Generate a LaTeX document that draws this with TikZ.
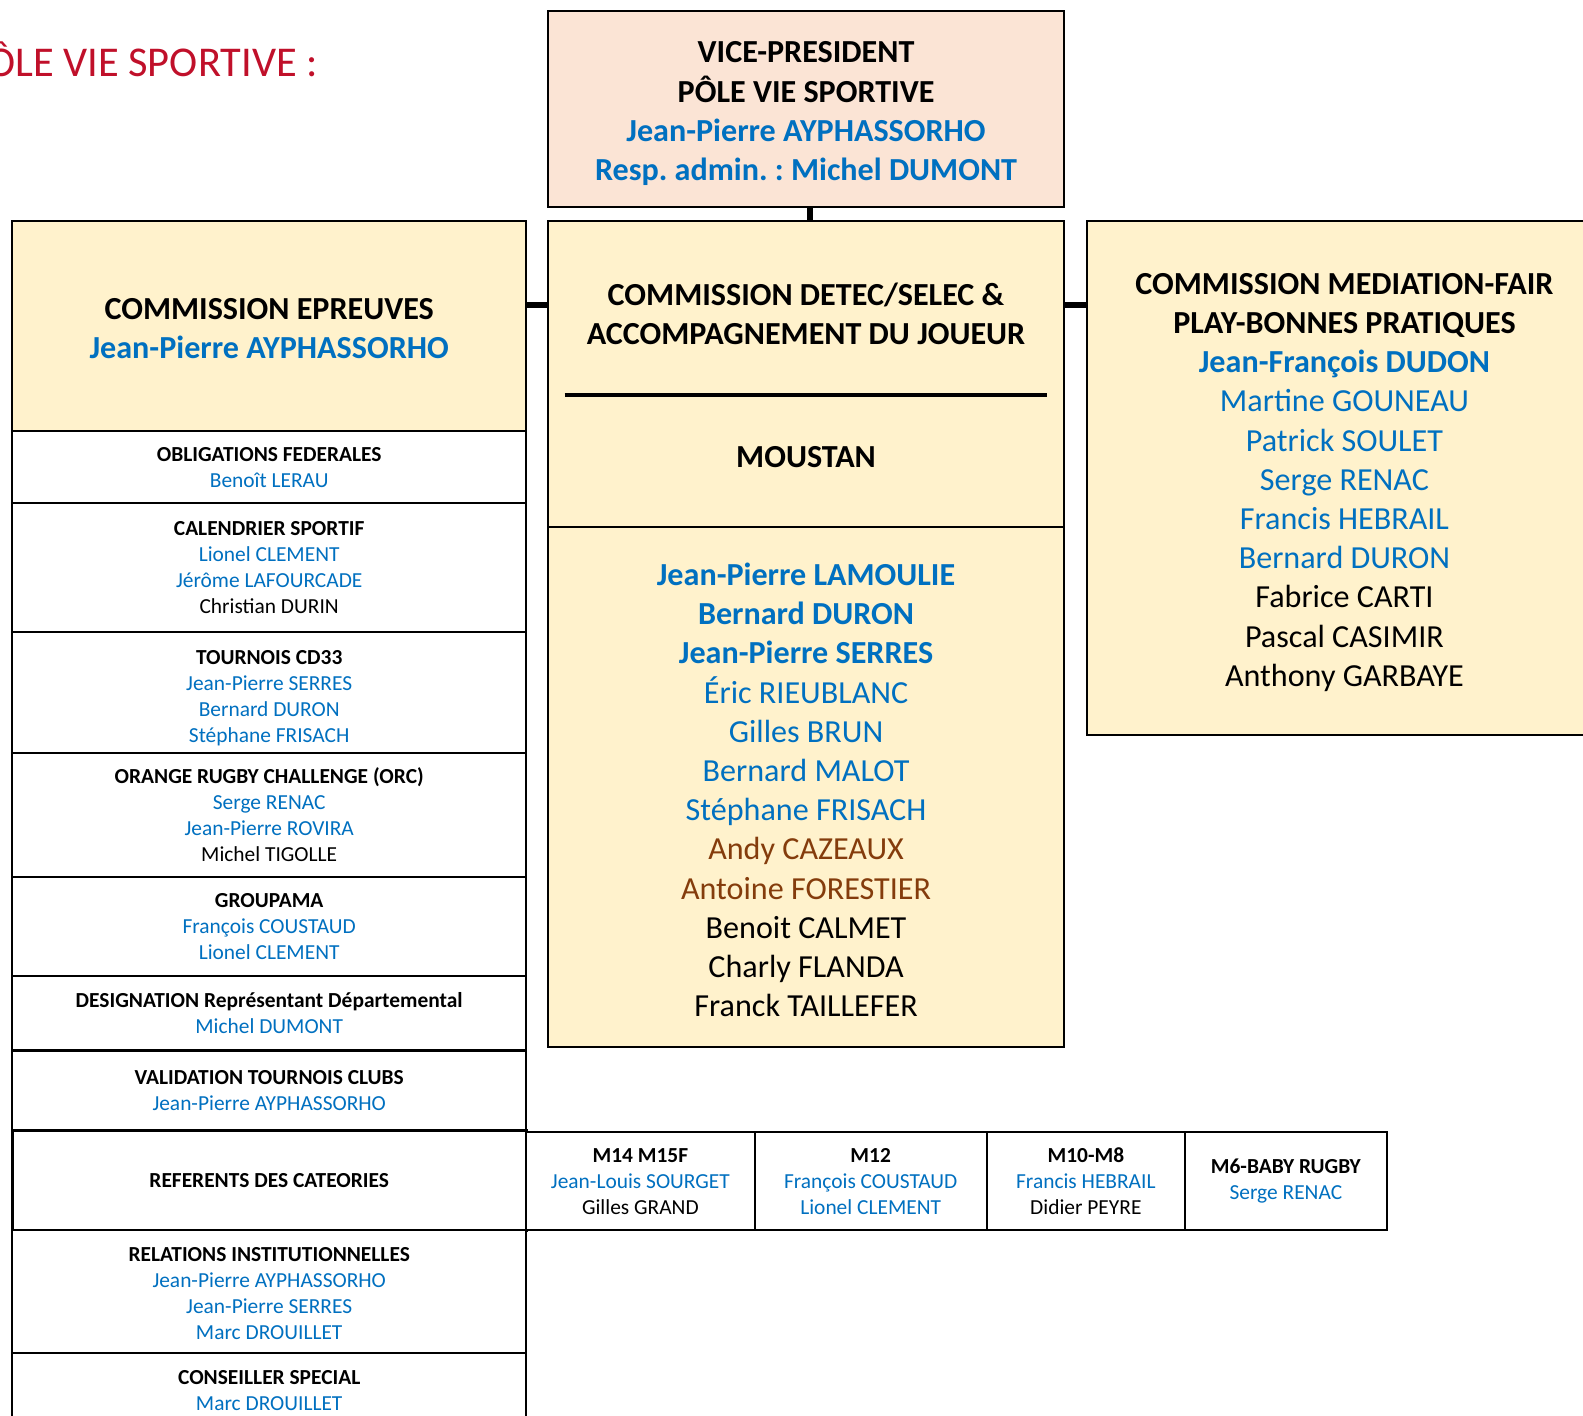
\documentclass[tikz,border=0pt]{standalone}
\usepackage{fontspec}
\setmainfont{Carlito}
\frenchspacing
\definecolor{nomblue}{HTML}{0070C0}
\definecolor{nombrown}{HTML}{843C0C}
\definecolor{titred}{HTML}{C0102A}
\definecolor{vpfill}{HTML}{FBE4D5}
\definecolor{comfill}{HTML}{FFF2CC}
\newcommand{\nb}[1]{\textcolor{nomblue}{#1}}
\newcommand{\nm}[1]{\textcolor{nombrown}{#1}}
\newcommand{\petit}{\fontsize{10.6}{12.9}\selectfont}
\newcommand{\grand}{\fontsize{15.9}{19.4}\selectfont}
\tikzset{
  cell/.style={draw=black, line width=1pt, fill=white, align=center,
    inner sep=0pt, minimum width=254.5pt, font=\petit},
  combox/.style={draw=black, line width=1pt, fill=comfill, align=center,
    inner sep=0pt, minimum width=255pt, font=\grand},
  catbox/.style={draw=black, line width=1pt, fill=white, align=center,
    inner sep=0pt, minimum height=48.5pt, font=\petit},
  txt/.style={align=center, inner sep=0pt},
  link/.style={line width=3.2pt, black},
}
\begin{document}
\begin{tikzpicture}[x=0.5pt,y=-0.5pt]
    \useasboundingbox (0,0) rectangle (1567.2,1401.8);

    \node[anchor=east, inner sep=0pt, text=titred, font=\fontsize{21}{25}\selectfont]
      (titre) at (315,59) {PÔLE VIE SPORTIVE :};

    % vice-president
    \node[combox, fill=vpfill, minimum height=97pt] (vp) at (798,108) {};
    \node[txt, font=\grand] (vptxt) at (798,112.5)
      {\textbf{VICE-PRESIDENT}\\ \textbf{PÔLE VIE SPORTIVE}\\
       \textbf{\nb{Jean-Pierre AYPHASSORHO}}\\ \textbf{\nb{Resp. admin. : Michel DUMONT}}};

    % three commissions
    \node[combox, minimum width=254.5pt, minimum height=104pt] (epreuves) at (266.5,323) {};
    \node[txt, font=\grand] (epreuvestxt) at (266.5,325)
      {\textbf{COMMISSION EPREUVES}\\ \textbf{\nb{Jean-Pierre AYPHASSORHO}}};
    \node[combox, minimum height=409pt] (detec) at (798,628) {};
    \node[combox, minimum height=254.5pt] (mediation) at (1331,473.5) {};
    \node[txt, font=\grand] (mediationtxt) at (1331,477.5)
      {\textbf{COMMISSION MEDIATION-FAIR}\\ \textbf{PLAY-BONNES PRATIQUES}\\
       \textbf{\nb{Jean-François DUDON}}\\ \nb{Martine GOUNEAU}\\ \nb{Patrick SOULET}\\
       \nb{Serge RENAC}\\ \nb{Francis HEBRAIL}\\ \nb{Bernard DURON}\\
       Fabrice CARTI\\ Pascal CASIMIR\\ Anthony GARBAYE};

    \node[txt, font=\grand] (detectitre) at (798,310.5)
      {\textbf{COMMISSION DETEC/SELEC \&}\\ \textbf{ACCOMPAGNEMENT DU JOUEUR}};
    \draw[line width=2pt] (559,391) -- (1037,391);
    \node[font=\grand] (moustan) at (798,453) {\textbf{MOUSTAN}};
    \draw[line width=1pt] (detec.west |- 0,522) -- (detec.east |- 0,522);
    \node[txt, font=\grand] (joueurs) at (798,782)
      {\textbf{\nb{Jean-Pierre LAMOULIE}}\\ \textbf{\nb{Bernard DURON}}\\
       \textbf{\nb{Jean-Pierre SERRES}}\\ \nb{Éric RIEUBLANC}\\ \nb{Gilles BRUN}\\
       \nb{Bernard MALOT}\\ \nb{Stéphane FRISACH}\\ \nm{Andy CAZEAUX}\\
       \nm{Antoine FORESTIER}\\ Benoit CALMET\\ Charly FLANDA\\ Franck TAILLEFER};

    % links
    \coordinate (lk) at (0,302);
    \draw[link] ([xshift=2pt]vp.south) -- ([xshift=2pt]detec.north);
    \draw[link] (epreuves.east |- lk) -- (detec.west |- lk);
    \draw[link] (detec.east |- lk) -- (mediation.west |- lk);

    % left column
    \node[cell, minimum height=35.5pt] (oblig) at (266.5,462.5)
      {\textbf{OBLIGATIONS FEDERALES}\\ \nb{Benoît LERAU}};
    \node[cell, minimum height=64pt] (calend) at (266.5,562)
      {\textbf{CALENDRIER SPORTIF}\\ \nb{Lionel CLEMENT}\\ \nb{Jérôme LAFOURCADE}\\ Christian DURIN};
    \node[cell, minimum height=59.5pt] (tournois) at (266.5,685.5) {};
    \node[txt, font=\petit] (tournoistxt) at (266.5,691)
      {\textbf{TOURNOIS CD33}\\ \nb{Jean-Pierre SERRES}\\ \nb{Bernard DURON}\\ \nb{Stéphane FRISACH}};
    \node[cell, minimum height=61.5pt] (orc) at (266.5,806.5)
      {\textbf{ORANGE RUGBY CHALLENGE (ORC)}\\ \nb{Serge RENAC}\\ \nb{Jean-Pierre ROVIRA}\\ Michel TIGOLLE};
    \node[cell, minimum height=49pt] (groupama) at (266.5,917)
      {\textbf{GROUPAMA}\\ \nb{François COUSTAUD}\\ \nb{Lionel CLEMENT}};
    \node[cell, minimum height=37pt] (design) at (266.5,1003)
      {\textbf{DESIGNATION Représentant Départemental}\\ \nb{Michel DUMONT}};
    \node[cell, minimum height=39.5pt] (valid) at (266.5,1079.5)
      {\textbf{VALIDATION TOURNOIS CLUBS}\\ \nb{Jean-Pierre AYPHASSORHO}};
    \node[cell, minimum height=49.5pt, line width=1.5pt] (referents) at (266.5,1168.5)
      {\textbf{REFERENTS DES CATEORIES}};
    \node[cell, minimum height=60.5pt] (relations) at (266.5,1278.5) {};
    \node[txt, font=\petit] (relationstxt) at (266.5,1281)
      {\textbf{RELATIONS INSTITUTIONNELLES}\\ \nb{Jean-Pierre AYPHASSORHO}\\
       \nb{Jean-Pierre SERRES}\\ \nb{Marc DROUILLET}};
    \node[cell, minimum height=50.5pt] (conseil) at (266.5,1389.5) {};
    \node[txt, font=\petit] (conseiltxt) at (266.5,1377)
      {\textbf{CONSEILLER SPECIAL}\\ \nb{Marc DROUILLET}};

    % categories
    \node[catbox, minimum width=113pt] (m14) at (634,1169.5)
      {\textbf{M14 M15F}\\ \nb{Jean-Louis SOURGET}\\ Gilles GRAND};
    \node[catbox, minimum width=115pt] (m12) at (862,1169.5)
      {\textbf{M12}\\ \nb{François COUSTAUD}\\ \nb{Lionel CLEMENT}};
    \node[catbox, minimum width=98pt] (m10) at (1075,1169.5)
      {\textbf{M10-M8}\\ \nb{Francis HEBRAIL}\\ Didier PEYRE};
    \node[catbox, minimum width=100pt] (m6) at (1273,1169.5)
      {\textbf{M6-BABY RUGBY}\\ \nb{Serge RENAC}};
  \end{tikzpicture}
\end{document}
